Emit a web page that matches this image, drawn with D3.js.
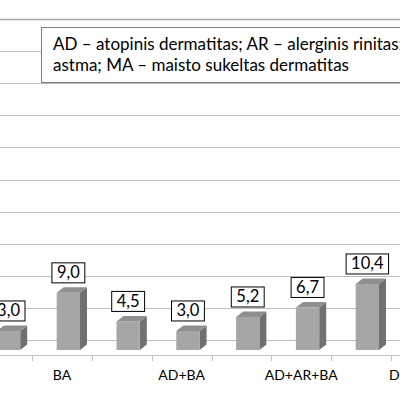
<!DOCTYPE html>
<html>
<head>
<meta charset="utf-8">
<script src="https://cdn.jsdelivr.net/npm/d3@7"></script>
<style>
  body { margin: 0; background: #fff; }
  svg { display: block; font-family: Lato, "Open Sans", sans-serif; }
</style>
</head>
<body>
<script>
// chart window (the original figure is wider, we only see part of it)
const width = 400, height = 393;

// categories and values (%), labels shown on every second category
const categories = ["AR", "BA", "AD+AR", "AD+BA", "AR+BA", "AD+AR+BA", "MA", "D+AR+BA"];
const values = [3.0, 9.0, 4.5, 3.0, 5.2, 6.7, 10.4, null];
const shownLabels = ["BA", "AD+BA", "AD+AR+BA", "D+AR+BA"];
const gridTicks = d3.range(0, 51, 5);
const legendLines = [
    "AD – atopinis dermatitas; AR – alerginis rinitas; BA – bronchinė",
    "astma; MA – maisto sukeltas dermatitas"
];

const svg = d3.select("body").append("svg")
    .attr("width", width)
    .attr("height", height);

const x = d3.scaleBand()
    .domain(categories)
    .range([-27.7, -27.7 + 59.8 * categories.length]);

// front face scale and back wall scale (3D look)
const yFront = d3.scaleLinear().domain([0, 50]).range([350, 350 - 6.35 * 50]);
const yBack = d3.scaleLinear().domain([0, 50]).range([340, 19]);
const depthX = 7, depthY = -5.5;
const barOffset = -5.3, barW = 23.3;

// back wall gridlines
svg.append("g").selectAll("line")
    .data(gridTicks)
    .enter().append("line")
    .attr("x1", 0).attr("x2", width)
    .attr("y1", d => Math.round(yBack(d)) + 0.5)
    .attr("y2", d => Math.round(yBack(d)) + 0.5)
    .attr("stroke", d => d === 50 ? "#a6a6a6" : "#bdbdbd")
    .attr("stroke-width", d => d === 50 ? 1.6 : 1);

// floor front edge + tick marks
svg.append("line")
    .attr("x1", 0).attr("x2", width)
    .attr("y1", 355.5).attr("y2", 355.5)
    .attr("stroke", "#c4c4c4");

svg.append("g").selectAll("line")
    .data(categories)
    .enter().append("line")
    .attr("x1", d => Math.round(x(d)) + 0.5)
    .attr("x2", d => Math.round(x(d)) + 0.5)
    .attr("y1", 355).attr("y2", 361)
    .attr("stroke", "#c4c4c4");

// bars
const data = categories.map((c, i) => ({ cat: c, value: values[i] })).filter(d => d.value != null);

const bars = svg.append("g").selectAll("g")
    .data(data)
    .enter().append("g");

bars.append("path") // side
    .attr("d", d => {
        const x0 = x(d.cat) + x.bandwidth() / 2 + barOffset + barW;
        const yt = yFront(d.value), yb = yFront(0);
        return `M${x0},${yb}L${x0},${yt}L${x0 + depthX},${yt + depthY}L${x0 + depthX},${yb + depthY}Z`;
    })
    .attr("fill", "#707070");

bars.append("path") // top
    .attr("d", d => {
        const x0 = x(d.cat) + x.bandwidth() / 2 + barOffset;
        const yt = yFront(d.value);
        return `M${x0},${yt}L${x0 + barW},${yt}L${x0 + barW + depthX},${yt + depthY}L${x0 + depthX},${yt + depthY}Z`;
    })
    .attr("fill", "#8f8f8f");

bars.append("rect") // front
    .attr("x", d => x(d.cat) + x.bandwidth() / 2 + barOffset)
    .attr("y", d => yFront(d.value))
    .attr("width", barW)
    .attr("height", d => yFront(0) - yFront(d.value))
    .attr("fill", "#a6a6a6");

// value label boxes
const labels = bars.append("g")
    .attr("transform", d => {
        const cx = x(d.cat) + x.bandwidth() / 2 + barOffset + barW / 2;
        const yb = yFront(d.value) + depthY - 4.5;
        return `translate(${cx},${yb})`;
    });

labels.append("rect")
    .attr("fill", "#fff")
    .attr("stroke", "#000")
    .attr("stroke-width", 1);

labels.append("text")
    .attr("text-anchor", "middle")
    .attr("y", -4.5)
    .attr("font-size", 16.5)
    .attr("fill", "#000")
    .text(d => d.value.toFixed(1).replace(".", ","));

labels.each(function () {
    const g = d3.select(this);
    const w = g.select("text").node().getComputedTextLength() + 10;
    g.select("rect")
        .attr("x", -w / 2).attr("y", -20)
        .attr("width", w).attr("height", 20);
});

// category labels
svg.append("g").selectAll("text")
    .data(categories.filter(c => shownLabels.includes(c)))
    .enter().append("text")
    .attr("x", d => x(d) + x.bandwidth() / 2)
    .attr("y", 380)
    .attr("text-anchor", "middle")
    .attr("font-size", 14)
    .attr("fill", "#000")
    .text(d => d);

// note box
svg.append("rect")
    .attr("x", 41.5).attr("y", 27.5)
    .attr("width", 420).attr("height", 55)
    .attr("fill", "#fff")
    .attr("stroke", "#7f7f7f");

svg.append("g").selectAll("text")
    .data(legendLines)
    .enter().append("text")
    .attr("x", 53)
    .attr("y", (d, i) => 49.5 + i * 21)
    .attr("font-size", 17)
    .attr("fill", "#000")
    .text(d => d);
</script>
</body>
</html>
